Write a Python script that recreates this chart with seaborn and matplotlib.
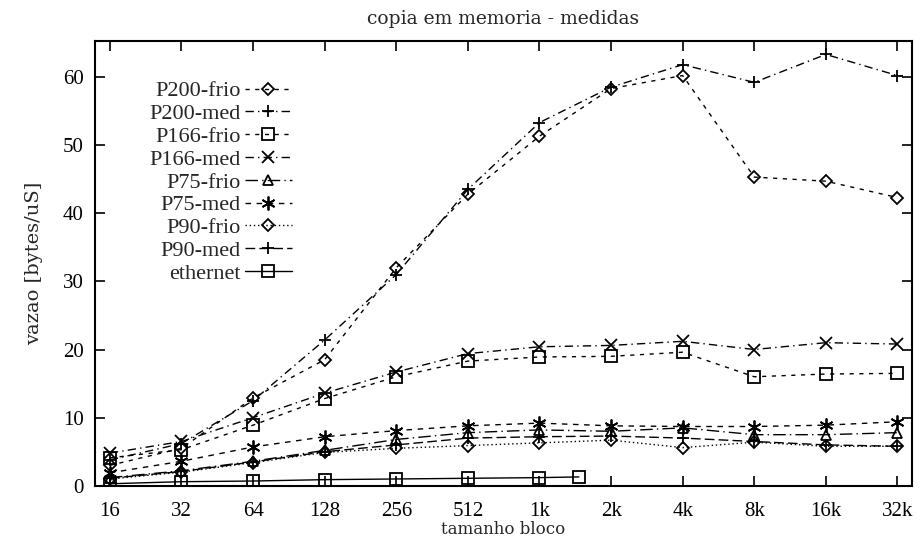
import matplotlib
matplotlib.use("Agg")
import matplotlib.pyplot as plt
import seaborn as sns
import pandas as pd

# ---- data ----
sizes = [16, 32, 64, 128, 256, 512, 1024, 2048, 4096, 8192, 16384, 32768]
tick_labels = ["16", "32", "64", "128", "256", "512", "1k", "2k", "4k", "8k", "16k", "32k"]
p200_frio = [3.0, 5.5, 12.9, 18.5, 32.0, 42.8, 51.3, 58.3, 60.2, 45.3, 44.7, 42.3]
p200_med = [3.8, 6.2, 12.5, 21.4, 31.0, 43.5, 53.3, 58.5, 61.8, 59.2, 63.3, 60.2]
p166_frio = [4.1, 5.3, 8.9, 12.8, 16.0, 18.3, 18.9, 19.0, 19.6, 16.0, 16.4, 16.5]
p166_med = [4.8, 6.5, 10.0, 13.6, 16.7, 19.4, 20.4, 20.6, 21.2, 20.0, 21.0, 20.8]
p75_frio = [1.2, 2.2, 3.6, 5.2, 6.8, 7.8, 8.2, 8.0, 8.5, 7.5, 7.5, 7.8]
p75_med = [1.9, 3.6, 5.7, 7.2, 8.1, 8.8, 9.2, 8.8, 8.7, 8.7, 8.9, 9.4]
p90_frio = [1.0, 2.0, 3.4, 4.9, 5.5, 5.9, 6.3, 6.7, 5.6, 6.4, 5.8, 5.8]
p90_med = [1.1, 2.1, 3.5, 5.0, 6.0, 7.0, 7.2, 7.3, 7.0, 6.5, 6.0, 5.8]
eth_sizes = [16, 32, 64, 128, 256, 512, 1024, 1500]
ethernet = [0.3, 0.6, 0.7, 0.9, 1.0, 1.1, 1.2, 1.3]

series = [
    ("P200-frio", sizes, p200_frio, "D", (0, (3, 4)), 6),
    ("P200-med", sizes, p200_med, "+", (0, (6, 3, 1, 3)), 9),
    ("P166-frio", sizes, p166_frio, "s", (0, (3, 4)), 8),
    ("P166-med", sizes, p166_med, "x", (0, (6, 3, 1, 3)), 9),
    ("P75-frio", sizes, p75_frio, "^", (0, (9, 3, 1, 3)), 7),
    ("P75-med", sizes, p75_med, (6, 2, 0), (0, (4, 4)), 10),
    ("P90-frio", sizes, p90_frio, "D", (0, (1, 2)), 6),
    ("P90-med", sizes, p90_med, "+", (0, (7, 3)), 9),
    ("ethernet", eth_sizes, ethernet, "s", "-", 8),
]

sns.set_theme(style="ticks")
plt.rcParams["font.family"] = ["Liberation Serif", "DejaVu Serif"]

fig = plt.figure(figsize=(9.21, 5.44), dpi=100)
ax = fig.add_axes([0.103, 0.107, 0.887, 0.818])

for name, xs, ys, mk, ls, ms in series:
    df = pd.DataFrame({"x": xs, "y": ys})
    sns.lineplot(data=df, x="x", y="y", ax=ax, color="black", linewidth=1.0,
                 linestyle=ls, marker=mk, markersize=ms,
                 markerfacecolor="none", markeredgecolor="black",
                 markeredgewidth=1.3, label=name)

ax.set_xscale("log", base=2)
ax.set_xlim(16 * 2 ** -0.21, 32768 * 2 ** 0.2)
ax.set_ylim(0, 65.3)
ax.set_xticks(sizes)
ax.set_xticklabels(tick_labels)
ax.minorticks_off()
ax.set_yticks([0, 10, 20, 30, 40, 50, 60])
ax.tick_params(direction="in", length=7, width=1.2, top=True, right=True,
               labelsize=15, colors="black")
ax.tick_params(axis="x", pad=12)
ax.tick_params(axis="y", pad=8)
for sp in ax.spines.values():
    sp.set_visible(True)
    sp.set_linewidth(1.5)
    sp.set_color("black")

ax.set_xlabel("tamanho bloco", fontsize=12, labelpad=0, family="DejaVu Serif")
ax.set_ylabel("vazao [bytes/uS]", fontsize=14, labelpad=14, family="DejaVu Serif")
ax.set_title("copia em memoria - medidas", fontsize=13.5, pad=12, family="DejaVu Serif")

leg = ax.legend(loc="upper right", bbox_to_anchor=(0.241, 0.910), frameon=False,
                markerfirst=False, fontsize=16, handlelength=2.1,
                handletextpad=0.2, labelspacing=0.1, borderaxespad=0,
                borderpad=0)

fig.savefig("out.png", dpi=100)
